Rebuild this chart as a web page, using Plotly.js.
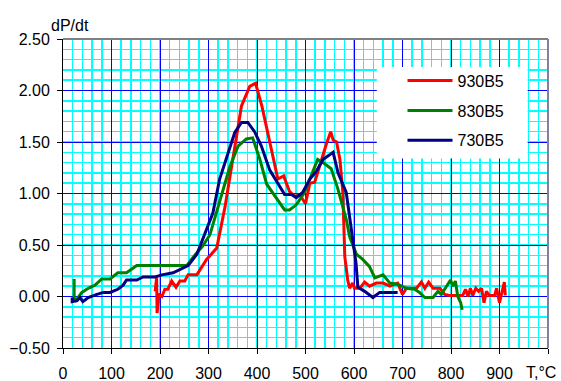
<!DOCTYPE html>
<html>
<head>
<meta charset="utf-8">
<script src="https://cdn.plot.ly/plotly-3.0.1.min.js"></script>
<style>html,body{margin:0;padding:0;background:#fff;}#chart{width:561px;height:381px;}</style>
</head>
<body>
<div id="chart"></div>
<script>
// Series: 930B5 (red)
const t930 = [190,193,194,198,204,210,216,224,233,241,251,258,276,296,317,334,350,368,385,397,410,426,443,455,467,478,488,500,509,519,533,543,552,557,564,571,577,579,581,587,591,597,601,612,622,632,646,660,674,690,700,708,729,739,746,754,763,777,787,797,824,830,835,840,845,851,857,863,868,873,879,890,894,900,906,910,912];
const v930 = [0.05,0.18,-0.16,0.02,0.00,0.07,0.07,0.15,0.09,0.15,0.15,0.21,0.21,0.36,0.47,0.87,1.33,1.85,2.04,2.07,1.85,1.49,1.14,1.17,1.02,0.97,0.99,0.90,1.10,1.11,1.33,1.48,1.60,1.52,1.50,1.33,1.01,0.55,0.39,0.16,0.08,0.13,0.08,0.08,0.14,0.10,0.13,0.13,0.10,0.13,0.02,0.08,0.08,0.14,0.08,0.14,0.08,0.08,0.02,0.01,0.01,0.07,0.00,0.08,0.01,0.08,0.05,0.08,-0.06,0.05,0.01,0.01,0.08,-0.06,0.08,0.14,0.01];
// Series: 830B5 (green)
const t830 = [23,23,26,29,39,52,66,80,97,113,131,152,255,268,288,303,323,344,361,378,391,406,420,440,457,467,481,498,515,525,536,553,567,584,591,605,618,632,643,660,674,690,708,725,735,746,763,773,780,791,799,804,809,814,820,823];
const v830 = [0.17,-0.03,-0.04,-0.02,0.04,0.08,0.11,0.17,0.17,0.23,0.23,0.30,0.30,0.38,0.49,0.60,0.91,1.26,1.46,1.53,1.54,1.33,1.09,0.96,0.84,0.84,0.89,1.01,1.20,1.33,1.30,1.24,1.04,0.75,0.58,0.41,0.36,0.29,0.18,0.21,0.13,0.12,0.08,0.07,0.04,-0.01,-0.01,0.05,0.02,0.10,0.16,0.10,0.15,0.00,-0.06,-0.13];
// Series: 730B5 (navy)
const t730 = [19,19,29,35,41,52,70,83,97,113,124,131,152,165,190,204,227,241,258,276,292,309,323,354,368,381,395,409,426,440,457,471,481,494,509,523,536,557,567,584,595,604,608,622,639,653,690];
const v730 = [-0.01,-0.05,-0.04,-0.01,-0.05,-0.01,0.02,0.04,0.04,0.07,0.11,0.16,0.16,0.19,0.19,0.21,0.23,0.26,0.30,0.41,0.60,0.81,1.14,1.59,1.69,1.69,1.60,1.46,1.23,1.12,0.99,0.99,0.96,1.01,1.14,1.22,1.33,1.40,1.20,1.01,0.65,0.33,0.09,0.05,-0.01,0.04,0.04];

const seriesNames = ['930B5','830B5','730B5'];
const xTickVals = [0,100,200,300,400,500,600,700,800,900,1000];
const xTickText = ['0','100','200','300','400','500','600','700','800','900',''];
const yTickVals = [-0.5,0,0.5,1,1.5,2,2.5];

const font = {family:'Arial, "Liberation Sans", sans-serif', size:16, color:'#000'};

const traces = [
  {x:t930, y:v930, name:seriesNames[0], mode:'lines', line:{color:'#ff0000', width:3}, legendgroup:'a'},
  {x:t830, y:v830, name:seriesNames[1], mode:'lines', line:{color:'#008000', width:3}, legendgroup:'b'},
  {x:t730, y:v730, name:seriesNames[2], mode:'lines', line:{color:'#000080', width:3}, legendgroup:'c'}
];

const layout = {
  width:561, height:381,
  margin:{l:63, r:13, t:39, b:33},
  paper_bgcolor:'#fff', plot_bgcolor:'#fff',
  font:font,
  showlegend:true,
  legend:{x:0.70, y:0.92, xanchor:'left', yanchor:'top', bgcolor:'rgba(0,0,0,0)', borderwidth:0,
          font:font, tracegroupgap:6, itemwidth:45},
  xaxis:{range:[0,1000], tickvals:xTickVals, ticktext:xTickText, ticks:'outside', ticklen:5, tickcolor:'#000',
         showline:true, linecolor:'#000', linewidth:1, showgrid:true, gridcolor:'#0000ff', gridwidth:1,
         zeroline:false, tickfont:font, ticklabelstandoff:6, fixedrange:true,
         minor:{dtick:20, tick0:0, showgrid:true, gridcolor:'#00ffff', gridwidth:1.5, ticks:''}},
  yaxis:{range:[-0.5,2.5], tickvals:yTickVals, tickformat:'.2f', ticks:'outside', ticklen:5, tickcolor:'#000',
         showline:true, linecolor:'#000', linewidth:1, showgrid:true, gridcolor:'#0000ff', gridwidth:1,
         zeroline:false, tickfont:font, ticklabelstandoff:4, fixedrange:true,
         minor:{dtick:0.1, tick0:0, showgrid:true, gridcolor:'#00ffff', gridwidth:1.5, ticks:''}},
  shapes:[
    {type:'rect', xref:'paper', yref:'paper', x0:0.647, x1:0.958, y0:0.613, y1:0.909, fillcolor:'#ffffff', line:{width:0}, layer:'above'},
    {type:'line', xref:'paper', yref:'paper', x0:0, x1:1, y0:1, y1:1, line:{color:'#808080', width:2}},
    {type:'line', xref:'paper', yref:'paper', x0:1, x1:1, y0:0, y1:1, line:{color:'#8080a0', width:2}}
  ],
  annotations:[
    {text:'dP/dt', xref:'paper', yref:'paper', x:-0.028, y:1.045, xanchor:'left', yanchor:'middle', showarrow:false, font:font},
    {text:'T,°C', xref:'paper', yref:'paper', x:0.9856, y:-0.078, xanchor:'center', yanchor:'middle', showarrow:false, font:font}
  ]
};

Plotly.newPlot('chart', traces, layout, {displayModeBar:false, staticPlot:true});
</script>
</body>
</html>
